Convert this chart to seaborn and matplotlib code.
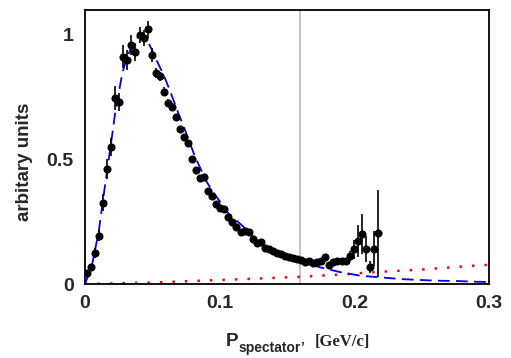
import numpy as np
import pandas as pd
import seaborn as sns
import matplotlib.pyplot as plt
from matplotlib.ticker import MultipleLocator

# measured points: bin centres, values, errors
p_spec = [0.0015, 0.0045, 0.0075, 0.0105, 0.0135, 0.0165, 0.0195, 0.0225, 0.0255, 0.0285,
          0.0315, 0.0345, 0.0375, 0.0405, 0.0435, 0.0465, 0.0495, 0.0525, 0.0555, 0.0585,
          0.0615, 0.0645, 0.0675, 0.0705, 0.0735, 0.0765, 0.0795, 0.0825, 0.0855, 0.0885,
          0.0915, 0.0945, 0.0975, 0.1005, 0.1035, 0.1065, 0.1095, 0.1125, 0.1155, 0.1185,
          0.1215, 0.1245, 0.1275, 0.1305, 0.1335, 0.1365, 0.1395, 0.1425, 0.1455, 0.1485,
          0.1515, 0.1545, 0.1575, 0.1605, 0.1635, 0.1665, 0.1695, 0.1725, 0.1755, 0.1785,
          0.1815, 0.1845, 0.1875, 0.1905, 0.1935, 0.1965, 0.1995, 0.2025, 0.2055, 0.2085,
          0.2115, 0.2145, 0.2175]
counts = [0.043, 0.067, 0.126, 0.194, 0.327, 0.461, 0.549, 0.748, 0.730, 0.913,
          0.900, 0.960, 0.931, 1.000, 0.989, 1.023, 0.920, 0.846, 0.833, 0.772,
          0.728, 0.712, 0.669, 0.621, 0.589, 0.565, 0.501, 0.458, 0.424, 0.428,
          0.373, 0.352, 0.322, 0.305, 0.301, 0.270, 0.249, 0.230, 0.209, 0.212,
          0.209, 0.179, 0.163, 0.170, 0.146, 0.139, 0.134, 0.123, 0.120, 0.112,
          0.108, 0.104, 0.100, 0.095, 0.090, 0.092, 0.083, 0.088, 0.092, 0.107,
          0.075, 0.087, 0.091, 0.091, 0.091, 0.111, 0.139, 0.173, 0.201, 0.139,
          0.067, 0.142, 0.204]
errors = [0.015, 0.015, 0.020, 0.022, 0.035, 0.040, 0.037, 0.048, 0.035, 0.045,
          0.040, 0.040, 0.037, 0.032, 0.032, 0.034, 0.027, 0.020, 0.017, 0.018,
          0.016, 0.015, 0.012, 0.012, 0.011, 0.011, 0.010, 0.010, 0.010, 0.010,
          0.009, 0.009, 0.009, 0.009, 0.008, 0.008, 0.008, 0.008, 0.008, 0.008,
          0.008, 0.008, 0.008, 0.008, 0.008, 0.008, 0.008, 0.008, 0.008, 0.008,
          0.008, 0.008, 0.008, 0.008, 0.008, 0.008, 0.008, 0.008, 0.008, 0.010,
          0.012, 0.010, 0.010, 0.010, 0.010, 0.020, 0.037, 0.064, 0.080, 0.052,
          0.024, 0.069, 0.175]

# blue dashed fit curve
fit_x = [0.0, 0.005, 0.0102, 0.015, 0.02, 0.0225, 0.0275, 0.031, 0.035, 0.039,
         0.0436, 0.047, 0.0497, 0.053, 0.056, 0.0594, 0.0634, 0.0693, 0.0743, 0.0817,
         0.0903, 0.094, 0.1064, 0.1176, 0.130, 0.1448, 0.160, 0.1745, 0.190, 0.205,
         0.219, 0.234, 0.249, 0.264, 0.276, 0.291, 0.300]
fit_y = [0.0, 0.07, 0.21, 0.40, 0.59, 0.69, 0.84, 0.91, 0.953, 0.99,
         1.0, 0.97, 0.94, 0.90, 0.866, 0.826, 0.772, 0.686, 0.618, 0.511,
         0.411, 0.378, 0.284, 0.230, 0.163, 0.123, 0.090, 0.067, 0.047, 0.033,
         0.027, 0.020, 0.016, 0.013, 0.012, 0.009, 0.008]

# red dotted background curve
bkg_x = [0.0, 0.05, 0.085, 0.12, 0.16, 0.19, 0.219, 0.25, 0.29, 0.30]
bkg_y = [0.0, 0.006, 0.013, 0.020, 0.029, 0.038, 0.049, 0.058, 0.074, 0.077]

cut_x = 0.16

sns.set_style("white")
plt.rcParams['font.family'] = ['Liberation Sans', 'DejaVu Sans']

fig = plt.figure(figsize=(5.11, 3.58), dpi=100)
ax = fig.add_axes([0.1663, 0.2067, 0.7906, 0.7654])

ax.axvline(cut_x, color="#c4c4c4", lw=1.5, zorder=1)

sns.lineplot(x=bkg_x, y=bkg_y, ax=ax, color="#ff0000", lw=1.8,
             linestyle=(0, (1, 4)), sort=False, estimator=None, zorder=2)
sns.lineplot(x=fit_x, y=fit_y, ax=ax, color="#0000ee", lw=1.3,
             linestyle=(0, (6.5, 3.5)), sort=False, estimator=None, zorder=3)

ax.errorbar(p_spec, counts, yerr=errors, fmt="none", ecolor="black", elinewidth=1.2, zorder=4)
sns.scatterplot(x=p_spec, y=counts, ax=ax, color="black", s=34, edgecolor="black",
                linewidth=0, zorder=5)

ax.set_xlim(0, 0.3)
ax.set_ylim(0, 1.1)
ax.xaxis.set_major_locator(MultipleLocator(0.1))
ax.xaxis.set_minor_locator(MultipleLocator(0.02))
ax.yaxis.set_major_locator(MultipleLocator(0.5))
ax.yaxis.set_minor_locator(MultipleLocator(0.1))
ax.set_xticks([0, 0.1, 0.2, 0.3])
ax.set_xticklabels(["0", "0.1", "0.2", "0.3"])
ax.set_yticks([0, 0.5, 1])
ax.set_yticklabels(["0", "0.5", "1"])
ax.tick_params(which="both", direction="in", top=False, right=False,
               labelsize=14, width=1.2)
ax.tick_params(which="major", length=12, pad=8)
ax.tick_params(which="minor", length=6)
for lab in ax.get_xticklabels() + ax.get_yticklabels():
    lab.set_fontweight("bold")
for side in ax.spines.values():
    side.set_linewidth(1.3)
    side.set_color("black")

ax.set_xlabel("")
ax.set_ylabel("")
fig.text(0.048, 0.548, "arbitary units", rotation=90, ha="center", va="center",
         fontsize=13.5, fontweight="bold")
fig.text(226 / 511, 1 - 345.5 / 358, "P", fontsize=13.5, fontweight="bold")
fig.text(238.5 / 511, 1 - 352 / 358, "spectator\u2019", fontsize=10, fontweight="bold")
fig.text(315 / 511, 1 - 346 / 358, "[GeV/c]", fontsize=12, fontweight="bold",
         family="Liberation Serif")

fig.savefig("out.png", dpi=100)
